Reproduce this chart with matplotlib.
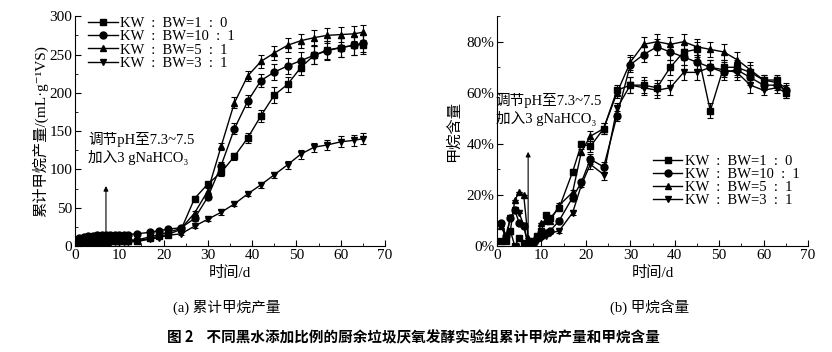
import matplotlib
matplotlib.use("Agg")
import matplotlib.pyplot as plt
from matplotlib.ticker import MultipleLocator, FuncFormatter

plt.rcParams["font.family"] = ["Liberation Serif", "Noto Sans CJK SC", "DejaVu Serif"]
plt.rcParams["font.size"] = 10

days = [1, 2, 3, 4, 5, 6, 7, 8, 9, 10, 11, 12,
        14, 17, 19, 21, 24, 27, 30, 33, 36, 39, 42, 45, 48, 51, 54, 57, 60, 63, 65]
labels = ["KW : BW=1 : 0", "KW : BW=10 : 1", "KW : BW=5 : 1", "KW : BW=3 : 1"]
markers = ["s", "o", "^", "v"]

# cumulative methane yield, mL/g VS
yield_10 = [3, 4, 4, 5, 5, 5, 5, 6, 6, 6, 6, 7,
            7, 10, 13, 15, 22, 62, 81, 96, 117, 141, 170, 197, 211, 233, 249, 256, 259, 262, 263]
yield_101 = [10, 12, 13, 13, 14, 14, 14, 14, 15, 15, 15, 15,
             16, 18, 20, 22, 24, 36, 64, 105, 153, 189, 216, 227, 235, 242, 249, 255, 259, 262, 265]
yield_51 = [4, 5, 6, 6, 7, 7, 7, 8, 8, 8, 8, 8,
            8, 12, 15, 18, 23, 43, 72, 130, 187, 222, 241, 252, 262, 268, 272, 275, 276, 277, 279]
yield_31 = [2, 3, 3, 3, 4, 4, 4, 4, 5, 5, 5, 5,
            6, 9, 11, 14, 16, 26, 35, 44, 55, 68, 80, 93, 106, 120, 129, 132, 136, 138, 140]
yield_err_10 = [0] * 12 + [1, 1, 1, 2, 2, 3, 3, 4, 5, 6, 8, 10, 10, 10, 12, 12, 12, 12, 12]
yield_err_101 = [0] * 12 + [1, 1, 1, 2, 2, 3, 3, 5, 7, 8, 9, 10, 11, 11, 12, 12, 12, 12, 12]
yield_err_51 = [0] * 12 + [1, 1, 1, 2, 2, 3, 4, 5, 7, 7, 8, 9, 9, 9, 10, 10, 10, 10, 10]
yield_err_31 = [0] * 12 + [1, 1, 1, 1, 2, 2, 2, 3, 3, 3, 4, 4, 5, 6, 6, 6, 7, 7, 7]

# methane content, %
ch4_10 = [2, 2, 6, 0, 3, 1, 1, 2, 4, 6, 12, 11,
          15, 29, 40, 39, 46, 61, 63, 63, 62, 70, 76, 77, 53, 70, 70, 68, 65, 65, 60]
ch4_101 = [9, 4, 11, 14, 9, 8, 1, 0, 3, 4, 5, 6,
           10, 19, 25, 34, 31, 51, 71, 75, 78, 76, 74, 72, 70, 68, 69, 66, 63, 63, 61]
ch4_51 = [8, 3, 6, 18, 21, 20, 3, 1, 4, 9, 10, 10,
          16, 21, 37, 43, 46, 60, 72, 79, 80, 79, 80, 78, 77, 76, 73, 69, 65, 64, 62]
ch4_31 = [8, 3, 11, 14, 13, 8, 0, 1, 2, 3, 4, 5,
          6, 13, 24, 32, 28, 54, 63, 62, 61, 62, 68, 68, 70, 69, 68, 63, 61, 62, 60]
ch4_err = [0] * 12 + [1, 1, 1, 2, 2, 2, 3, 3, 3, 3, 3, 3, 3, 3, 3, 3, 2, 2, 2]

fig = plt.figure(figsize=(8.32, 3.52), dpi=100)
ax1 = fig.add_axes([0.0901, 0.301, 0.3726, 0.653])
ax2 = fig.add_axes([0.5974, 0.301, 0.3738, 0.653])


def style_axis(ax):
    for side in ["top", "right"]:
        ax.spines[side].set_visible(False)
    ax.spines["left"].set_linewidth(0.8)
    ax.spines["bottom"].set_linewidth(0.8)
    ax.set_xlim(0, 70)
    ax.xaxis.set_major_locator(MultipleLocator(10))
    ax.xaxis.set_minor_locator(MultipleLocator(5))
    ax.tick_params(which="major", direction="in", length=4, width=0.8, labelsize=11, pad=2)
    ax.tick_params(which="minor", direction="in", length=2, width=0.6)
    ax.set_xlabel("时间/d", fontsize=11, labelpad=3)


def add_legend(ax, **kw):
    handles, labs = ax.get_legend_handles_labels()
    # wider gaps round the colons, as in the original
    labs = [s.replace(" : ", "  :  ") for s in labs]
    ax.legend([h[0] for h in handles], labs, frameon=False, fontsize=10.5,
              handlelength=2.0, handletextpad=0.15, labelspacing=0.0,
              borderaxespad=0.2, **kw)


note = "调节pH至7.3~7.5\n加入3 gNaHCO₃"

yields = [yield_10, yield_101, yield_51, yield_31]
yield_errs = [yield_err_10, yield_err_101, yield_err_51, yield_err_31]
for vals, err, m, lab in zip(yields, yield_errs, markers, labels):
    ax1.errorbar(days, vals, yerr=err, color="black", marker=m, markersize=5,
                 linewidth=1, elinewidth=0.8, capsize=2.5, capthick=0.8, label=lab)
style_axis(ax1)
ax1.set_ylim(0, 300)
ax1.yaxis.set_major_locator(MultipleLocator(50))
ax1.yaxis.set_minor_locator(MultipleLocator(25))
ax1.set_ylabel("累计甲烷产量/(mL·g⁻¹VS)", fontsize=11, labelpad=1)
add_legend(ax1, loc="upper left", bbox_to_anchor=(0.015, 1.035))
ax1.annotate("", xy=(7, 82), xytext=(7, 0),
             arrowprops=dict(arrowstyle="-|>", color="black", lw=0.8, mutation_scale=7))
ax1.text(3, 128, note, fontsize=10.5, va="center", linespacing=1.25)

contents = [ch4_10, ch4_101, ch4_51, ch4_31]
for vals, m, lab in zip(contents, markers, labels):
    ax2.errorbar(days, vals, yerr=ch4_err, color="black", marker=m, markersize=5,
                 linewidth=1, elinewidth=0.8, capsize=2.5, capthick=0.8, label=lab)
style_axis(ax2)
ax2.set_ylim(0, 90)
ax2.yaxis.set_major_locator(MultipleLocator(20))
ax2.yaxis.set_minor_locator(MultipleLocator(10))
ax2.yaxis.set_major_formatter(FuncFormatter(lambda v, p: f"{v:.0f}%"))
ax2.set_ylabel("甲烷含量", fontsize=11, labelpad=4)
add_legend(ax2, loc="lower right", bbox_to_anchor=(1.0, 0.13))
ax2.annotate("", xy=(7, 38), xytext=(7, 0),
             arrowprops=dict(arrowstyle="-|>", color="black", lw=0.8, mutation_scale=7))
ax2.text(-0.3, 53.5, note, fontsize=10.5, va="center", linespacing=1.25)

fig.text(0.273, 0.128, "(a) 累计甲烷产量", ha="center", va="center", fontsize=10.5)
fig.text(0.781, 0.128, "(b) 甲烷含量", ha="center", va="center", fontsize=10.5)
fig.text(0.497, 0.042, "图 2    不同黑水添加比例的厨余垃圾厌氧发酵实验组累计甲烷产量和甲烷含量",
         ha="center", va="center", fontsize=10.5, fontweight="bold",
         family=["Noto Sans CJK SC", "DejaVu Sans"])

fig.savefig("out.png", dpi=100)
